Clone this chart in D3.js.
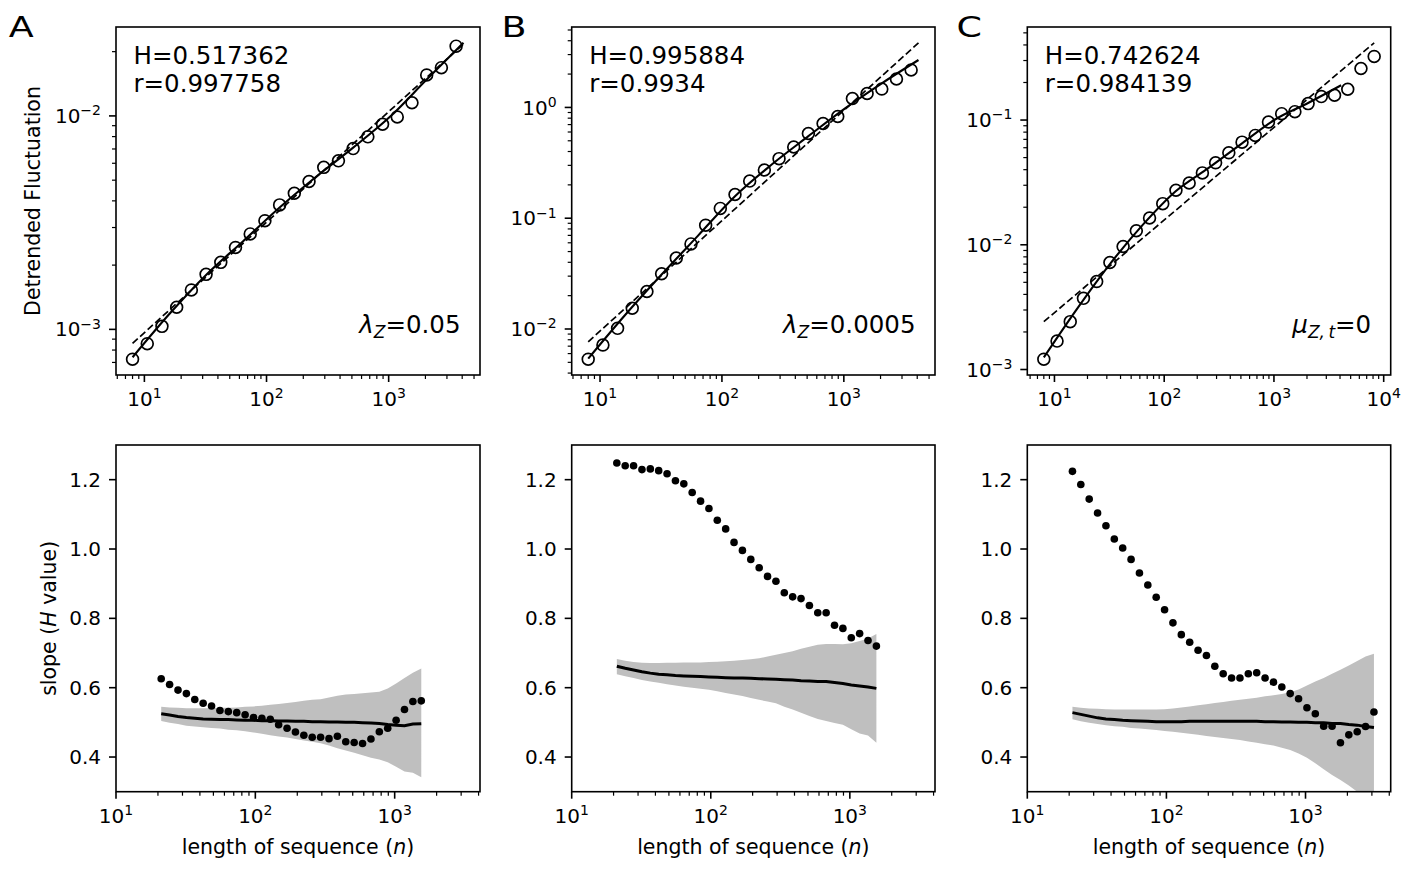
<!DOCTYPE html>
<html><head><meta charset="utf-8">
<script src="https://cdn.jsdelivr.net/npm/d3@7"></script>
<style>
body{margin:0;background:#fff}
svg{display:block}
text{font-family:"DejaVu Sans",sans-serif;fill:#000}
</style>
</head><body>
<svg id="fig" width="1425" height="893"></svg>
<script>
// ---------------- data ----------------
const panelLetters = ["A", "B", "C"];
const hTexts = ["H=0.517362", "H=0.995884", "H=0.742624"];
const rTexts = ["r=0.997758", "r=0.9934", "r=0.984139"];

// top row: detrended fluctuation vs window size
const nTopAB = [8, 10.56, 13.93, 18.38, 24.25, 32, 42.22, 55.72, 73.52, 97.01, 128, 168.9, 222.9, 294.1, 388.0, 512, 675.6, 891.4, 1176, 1552, 2048, 2702, 3566];
const nTopC = [8, 10.56, 13.93, 18.38, 24.25, 32, 42.22, 55.72, 73.52, 97.01, 128, 168.9, 222.9, 294.1, 388.0, 512, 675.6, 891.4, 1176, 1552, 2048, 2702, 3566, 4705, 6208, 8192];
const flucA = [7.25e-4, 8.57e-4, 1.033e-3, 1.27e-3, 1.53e-3, 1.81e-3, 2.06e-3, 2.42e-3, 2.80e-3, 3.23e-3, 3.83e-3, 4.34e-3, 4.93e-3, 5.74e-3, 6.16e-3, 7.03e-3, 7.98e-3, 9.14e-3, 9.89e-3, 1.153e-2, 1.556e-2, 1.683e-2, 2.122e-2];
const flucB = [5.34e-3, 7.16e-3, 1.014e-2, 1.541e-2, 2.179e-2, 3.153e-2, 4.375e-2, 5.861e-2, 8.65e-2, 0.1226, 0.1638, 0.2163, 0.2722, 0.345, 0.4395, 0.581, 0.716, 0.828, 1.205, 1.337, 1.465, 1.805, 2.18];
const flucC = [1.21e-3, 1.69e-3, 2.42e-3, 3.72e-3, 5.07e-3, 7.21e-3, 9.69e-3, 1.295e-2, 1.640e-2, 2.137e-2, 2.734e-2, 3.13e-2, 3.77e-2, 4.54e-2, 5.46e-2, 6.65e-2, 7.53e-2, 9.64e-2, 0.1125, 0.1167, 0.1354, 0.1542, 0.158, 0.1767, 0.259, 0.3235];

// smooth fitted curve (solid)
const fitN = [8, 16, 32, 64, 128, 256, 512, 1024, 2048, 4096];
const fitA = [7.4e-4, 1.18e-3, 1.80e-3, 2.58e-3, 3.72e-3, 5.2e-3, 7.1e-3, 9.9e-3, 1.48e-2, 2.2e-2];
const fitB = [5.4e-3, 1.33e-2, 3.1e-2, 7.0e-2, 0.158, 0.305, 0.55, 0.98, 1.65, 2.68];
const fitC = [1.25e-3, 3.05e-3, 7.0e-3, 1.45e-2, 2.7e-2, 4.15e-2, 6.5e-2, 0.101, 0.137, 0.19];

// power-law fit (dashed), end points
const dashNAB = [8, 4096];
const dashNC = [8, 8192];
const dashA = [8.6e-4, 0.0217];
const dashB = [7.67e-3, 3.83];
const dashC = [2.42e-3, 0.416];

// bottom row: local slope vs sequence length
const nSlopeAB = [21.11, 24.25, 27.86, 32, 36.76, 42.22, 48.5, 55.72, 64, 73.52, 84.45, 97.01, 111.4, 128, 147.0, 168.9, 194.0, 222.9, 256, 294.1, 337.8, 388.0, 445.7, 512, 588.1, 675.6, 776.0, 891.4, 1024, 1176, 1351, 1552];
const nSlopeC = [21.11, 24.25, 27.86, 32, 36.76, 42.22, 48.5, 55.72, 64, 73.52, 84.45, 97.01, 111.4, 128, 147.0, 168.9, 194.0, 222.9, 256, 294.1, 337.8, 388.0, 445.7, 512, 588.1, 675.6, 776.0, 891.4, 1024, 1176, 1351, 1552, 1783, 2048, 2353, 2702, 3104];
const slopeA = [0.626, 0.609, 0.593, 0.583, 0.566, 0.555, 0.547, 0.534, 0.531, 0.528, 0.522, 0.514, 0.512, 0.509, 0.493, 0.483, 0.472, 0.463, 0.457, 0.457, 0.453, 0.460, 0.444, 0.442, 0.439, 0.452, 0.473, 0.483, 0.506, 0.537, 0.560, 0.562];
const slopeB = [1.248, 1.240, 1.240, 1.229, 1.231, 1.226, 1.217, 1.197, 1.188, 1.163, 1.138, 1.117, 1.083, 1.058, 1.019, 0.996, 0.970, 0.946, 0.921, 0.907, 0.874, 0.862, 0.857, 0.837, 0.816, 0.816, 0.780, 0.771, 0.744, 0.756, 0.736, 0.720];
const slopeC = [1.224, 1.186, 1.144, 1.104, 1.067, 1.029, 1.003, 0.970, 0.931, 0.896, 0.861, 0.825, 0.787, 0.753, 0.731, 0.708, 0.693, 0.662, 0.640, 0.628, 0.628, 0.640, 0.643, 0.628, 0.616, 0.602, 0.583, 0.568, 0.542, 0.525, 0.489, 0.489, 0.441, 0.464, 0.473, 0.488, 0.530];

// surrogate mean and band
const meanA = [0.525, 0.521, 0.517, 0.514, 0.512, 0.510, 0.509, 0.508, 0.508, 0.507, 0.506, 0.506, 0.505, 0.505, 0.504, 0.504, 0.503, 0.503, 0.502, 0.502, 0.501, 0.501, 0.500, 0.500, 0.499, 0.498, 0.497, 0.494, 0.492, 0.490, 0.495, 0.496];
const upperA = [0.545, 0.543, 0.542, 0.541, 0.541, 0.541, 0.541, 0.542, 0.542, 0.543, 0.545, 0.546, 0.548, 0.551, 0.553, 0.556, 0.559, 0.562, 0.565, 0.567, 0.572, 0.577, 0.580, 0.582, 0.584, 0.586, 0.588, 0.598, 0.612, 0.628, 0.643, 0.655];
const lowerA = [0.504, 0.499, 0.495, 0.490, 0.488, 0.486, 0.484, 0.482, 0.479, 0.477, 0.474, 0.471, 0.467, 0.463, 0.459, 0.456, 0.452, 0.448, 0.444, 0.440, 0.433, 0.425, 0.419, 0.412, 0.405, 0.398, 0.393, 0.385, 0.372, 0.358, 0.355, 0.342];
const meanB = [0.662, 0.656, 0.651, 0.646, 0.642, 0.639, 0.637, 0.635, 0.634, 0.633, 0.632, 0.631, 0.630, 0.629, 0.628, 0.628, 0.627, 0.626, 0.625, 0.624, 0.623, 0.622, 0.620, 0.619, 0.618, 0.618, 0.615, 0.612, 0.608, 0.605, 0.602, 0.598];
const upperB = [0.683, 0.678, 0.674, 0.672, 0.671, 0.671, 0.672, 0.672, 0.673, 0.673, 0.673, 0.674, 0.675, 0.676, 0.678, 0.680, 0.682, 0.685, 0.690, 0.695, 0.700, 0.705, 0.712, 0.718, 0.724, 0.726, 0.726, 0.725, 0.728, 0.735, 0.742, 0.755];
const lowerB = [0.639, 0.633, 0.628, 0.622, 0.618, 0.614, 0.610, 0.606, 0.603, 0.600, 0.597, 0.594, 0.590, 0.585, 0.580, 0.576, 0.570, 0.565, 0.560, 0.555, 0.545, 0.537, 0.528, 0.518, 0.510, 0.504, 0.498, 0.493, 0.480, 0.468, 0.462, 0.441];
const meanC = [0.528, 0.523, 0.518, 0.513, 0.510, 0.508, 0.506, 0.505, 0.504, 0.503, 0.502, 0.502, 0.502, 0.502, 0.503, 0.503, 0.503, 0.503, 0.503, 0.503, 0.503, 0.503, 0.503, 0.502, 0.502, 0.501, 0.501, 0.500, 0.500, 0.499, 0.499, 0.497, 0.497, 0.494, 0.492, 0.488, 0.485];
const upperC = [0.545, 0.542, 0.540, 0.539, 0.538, 0.537, 0.537, 0.537, 0.537, 0.537, 0.537, 0.538, 0.540, 0.543, 0.546, 0.549, 0.552, 0.556, 0.559, 0.562, 0.565, 0.568, 0.571, 0.575, 0.578, 0.582, 0.587, 0.595, 0.606, 0.618, 0.628, 0.640, 0.652, 0.664, 0.677, 0.690, 0.698];
const lowerC = [0.509, 0.503, 0.499, 0.495, 0.492, 0.489, 0.487, 0.484, 0.482, 0.480, 0.478, 0.475, 0.473, 0.470, 0.467, 0.464, 0.461, 0.458, 0.455, 0.452, 0.449, 0.445, 0.441, 0.437, 0.433, 0.427, 0.420, 0.410, 0.398, 0.382, 0.365, 0.348, 0.334, 0.318, 0.300, 0.280, 0.260];

const slopeYTicks = [0.4, 0.6, 0.8, 1.0, 1.2];
const slopeYDomain = [0.3, 1.3];
const slopeXDomain = [10, 4096];

// ---------------- layout ----------------
const svg = d3.select("#fig");
const cols = [{l: 116, r: 480}, {l: 571.7, r: 935}, {l: 1027.3, r: 1390.7}];
const topRow = {t: 27, b: 375};
const botRow = {t: 445, b: 791.7};
const letterX = [8.8, 501.5, 956.5];
const FS_TICK = 20, FS_SUP = 14, FS_LAB = 20.5, FS_ANN = 24.5;

const topPanels = [
  {n: nTopAB, f: flucA, fit: fitA, dn: dashNAB, d: dashA, param: ["λ", "Z", "=0.05"]},
  {n: nTopAB, f: flucB, fit: fitB, dn: dashNAB, d: dashB, param: ["λ", "Z", "=0.0005"]},
  {n: nTopC, f: flucC, fit: fitC, dn: dashNC, d: dashC, param: ["μ", "Z,\u2009t", "=0"]}
];
const botPanels = [
  {n: nSlopeAB, s: slopeA, m: meanA, u: upperA, lo: lowerA},
  {n: nSlopeAB, s: slopeB, m: meanB, u: upperB, lo: lowerB},
  {n: nSlopeC, s: slopeC, m: meanC, u: upperC, lo: lowerC}
];

function logPad(vals) {
  const lo = Math.log10(d3.min(vals)), hi = Math.log10(d3.max(vals));
  const p = (hi - lo) * 0.05;
  return [Math.pow(10, lo - p), Math.pow(10, hi + p)];
}
function logTicks(dom) {
  const majors = [], minors = [];
  const e0 = Math.floor(Math.log10(dom[0])), e1 = Math.ceil(Math.log10(dom[1]));
  for (let e = e0; e <= e1; e++) {
    for (let m = 1; m < 10; m++) {
      const v = m * Math.pow(10, e);
      if (v < dom[0] * 0.9999 || v > dom[1] * 1.0001) continue;
      if (m === 1) majors.push({v, e}); else minors.push(v);
    }
  }
  return {majors, minors};
}
function powText(sel, e) {
  sel.append("tspan").text("10");
  sel.append("tspan").attr("dy", -7.8).attr("font-size", FS_SUP)
    .text(e < 0 ? "\u2212" + (-e) : String(e));
}
function frame(g, x0, x1, y0, y1) {
  g.append("rect").attr("x", x0).attr("y", y0).attr("width", x1 - x0).attr("height", y1 - y0)
    .attr("fill", "none").attr("stroke", "#000").attr("stroke-width", 1.6);
}
function xLogAxis(g, x, dom, yb) {
  const t = logTicks(dom);
  g.selectAll(null).data(t.minors).join("line")
    .attr("x1", d => x(d)).attr("x2", d => x(d)).attr("y1", yb).attr("y2", yb + 4)
    .attr("stroke", "#000").attr("stroke-width", 1.2);
  g.selectAll(null).data(t.majors).join("line")
    .attr("x1", d => x(d.v)).attr("x2", d => x(d.v)).attr("y1", yb).attr("y2", yb + 7)
    .attr("stroke", "#000").attr("stroke-width", 1.6);
  t.majors.forEach(d => {
    const tx = g.append("text").attr("x", x(d.v)).attr("y", yb + 31)
      .attr("text-anchor", "middle").attr("font-size", FS_TICK);
    powText(tx, d.e);
  });
}
function yLogAxis(g, y, dom, xl) {
  const t = logTicks(dom);
  g.selectAll(null).data(t.minors).join("line")
    .attr("y1", d => y(d)).attr("y2", d => y(d)).attr("x1", xl).attr("x2", xl - 4)
    .attr("stroke", "#000").attr("stroke-width", 1.2);
  g.selectAll(null).data(t.majors).join("line")
    .attr("y1", d => y(d.v)).attr("y2", d => y(d.v)).attr("x1", xl).attr("x2", xl - 7)
    .attr("stroke", "#000").attr("stroke-width", 1.6);
  t.majors.forEach(d => {
    const tx = g.append("text").attr("x", xl - 15).attr("y", y(d.v) + 7.1)
      .attr("text-anchor", "end").attr("font-size", FS_TICK);
    powText(tx, d.e);
  });
}

// ---------------- top row ----------------
topPanels.forEach((p, i) => {
  const c = cols[i];
  const g = svg.append("g");
  const xDom = logPad(p.n.concat(fitN, p.dn));
  const yDom = logPad(p.f.concat(p.fit, p.d));
  const x = d3.scaleLog().domain(xDom).range([c.l, c.r]);
  const y = d3.scaleLog().domain(yDom).range([topRow.b, topRow.t]);
  const cid = "clipT" + i;
  svg.append("clipPath").attr("id", cid).append("rect")
    .attr("x", c.l).attr("y", topRow.t).attr("width", c.r - c.l).attr("height", topRow.b - topRow.t);
  const plot = g.append("g").attr("clip-path", `url(#${cid})`);

  // dashed power-law fit
  plot.append("path").datum(p.dn.map((n, k) => [n, p.d[k]]))
    .attr("d", d3.line().x(d => x(d[0])).y(d => y(d[1])))
    .attr("fill", "none").attr("stroke", "#000").attr("stroke-width", 1.7)
    .attr("stroke-dasharray", "7 3.2");
  // solid smooth fit
  plot.append("path").datum(fitN.map((n, k) => [n, p.fit[k]]))
    .attr("d", d3.line().x(d => x(d[0])).y(d => y(d[1])).curve(d3.curveMonotoneX))
    .attr("fill", "none").attr("stroke", "#000").attr("stroke-width", 2.1);
  // open circles
  plot.selectAll(null).data(p.n.map((n, k) => [n, p.f[k]])).join("circle")
    .attr("cx", d => x(d[0])).attr("cy", d => y(d[1])).attr("r", 5.9)
    .attr("fill", "none").attr("stroke", "#000").attr("stroke-width", 1.7);

  frame(g, c.l, c.r, topRow.t, topRow.b);
  xLogAxis(g, x, xDom, topRow.b);
  yLogAxis(g, y, yDom, c.l);

  g.append("text").attr("x", c.l + 17.5).attr("y", 64).attr("font-size", FS_ANN).text(hTexts[i]);
  g.append("text").attr("x", c.l + 17.5).attr("y", 91.7).attr("font-size", FS_ANN).text(rTexts[i]);

  const pt = g.append("text").attr("x", c.r - 19.5).attr("y", 333.3)
    .attr("text-anchor", "end").attr("font-size", FS_ANN);
  pt.append("tspan").attr("font-style", "italic").text(p.param[0]);
  pt.append("tspan").attr("font-style", "italic").attr("font-size", 17).attr("dy", 5).text(p.param[1]);
  pt.append("tspan").attr("dy", -5).text(p.param[2]);

  svg.append("text").attr("transform", `translate(${letterX[i]},36.7) scale(1.28,1)`)
    .attr("font-size", 28.5).text(panelLetters[i]);
});

svg.append("text").attr("transform", `translate(40,${(topRow.t + topRow.b) / 2}) rotate(-90)`)
  .attr("text-anchor", "middle").attr("font-size", FS_LAB).text("Detrended Fluctuation");

// ---------------- bottom row ----------------
botPanels.forEach((p, i) => {
  const c = cols[i];
  const g = svg.append("g");
  const x = d3.scaleLog().domain(slopeXDomain).range([c.l, c.r]);
  const y = d3.scaleLinear().domain(slopeYDomain).range([botRow.b, botRow.t]);
  const cid = "clipB" + i;
  svg.append("clipPath").attr("id", cid).append("rect")
    .attr("x", c.l).attr("y", botRow.t).attr("width", c.r - c.l).attr("height", botRow.b - botRow.t);
  const plot = g.append("g").attr("clip-path", `url(#${cid})`);

  plot.append("path").datum(p.n.map((n, k) => [n, p.lo[k], p.u[k]]))
    .attr("d", d3.area().x(d => x(d[0])).y0(d => y(d[1])).y1(d => y(d[2])))
    .attr("fill", "#bfbfbf").attr("stroke", "none");
  plot.append("path").datum(p.n.map((n, k) => [n, p.m[k]]))
    .attr("d", d3.line().x(d => x(d[0])).y(d => y(d[1])))
    .attr("fill", "none").attr("stroke", "#000").attr("stroke-width", 3);
  plot.selectAll(null).data(p.n.map((n, k) => [n, p.s[k]])).join("circle")
    .attr("cx", d => x(d[0])).attr("cy", d => y(d[1])).attr("r", 3.8).attr("fill", "#000");

  frame(g, c.l, c.r, botRow.t, botRow.b);
  xLogAxis(g, x, slopeXDomain, botRow.b);
  g.selectAll(null).data(slopeYTicks).join("line")
    .attr("y1", d => y(d)).attr("y2", d => y(d)).attr("x1", c.l).attr("x2", c.l - 7)
    .attr("stroke", "#000").attr("stroke-width", 1.6);
  g.selectAll(null).data(slopeYTicks).join("text")
    .attr("x", c.l - 15).attr("y", d => y(d) + 7.1).attr("text-anchor", "end")
    .attr("font-size", FS_TICK).text(d => d3.format(".1f")(d));

  const xl = g.append("text").attr("x", (c.l + c.r) / 2).attr("y", 854)
    .attr("text-anchor", "middle").attr("font-size", FS_LAB);
  xl.append("tspan").text("length of sequence (");
  xl.append("tspan").attr("font-style", "italic").text("n");
  xl.append("tspan").text(")");
});

const yl = svg.append("text").attr("transform", `translate(55.5,${(botRow.t + botRow.b) / 2}) rotate(-90)`)
  .attr("text-anchor", "middle").attr("font-size", FS_LAB);
yl.append("tspan").text("slope (");
yl.append("tspan").attr("font-style", "italic").text("H");
yl.append("tspan").text(" value)");
</script>
</body></html>
